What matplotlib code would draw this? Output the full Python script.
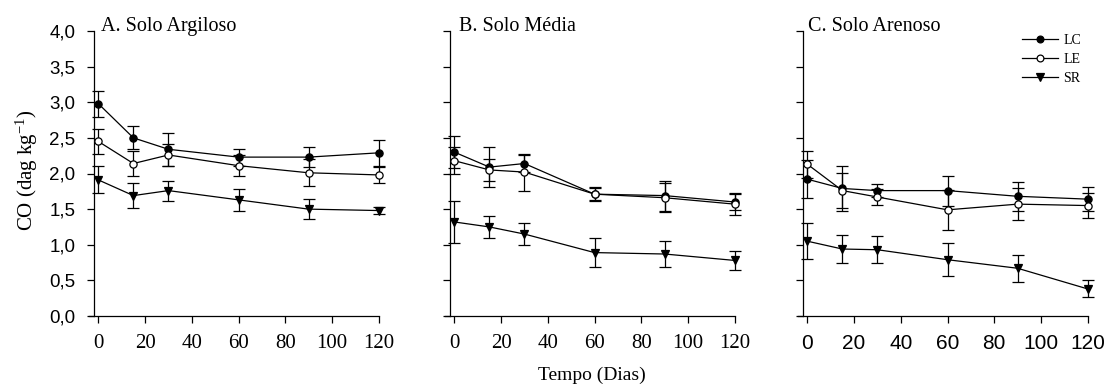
import matplotlib
matplotlib.use("Agg")
import matplotlib.pyplot as plt
from matplotlib.lines import Line2D

plt.rcParams["mathtext.fontset"] = "custom"
plt.rcParams["mathtext.rm"] = "Liberation Serif"
plt.rcParams["mathtext.it"] = "Liberation Serif:italic"
plt.rcParams["mathtext.bf"] = "Liberation Serif:bold"

dias = [0, 15, 30, 60, 90, 120]
series = ["LC", "LE", "SR"]
panel_titles = ["A. Solo Argiloso", "B. Solo Média", "C. Solo Arenoso"]

# Panel A - Solo Argiloso
a_lc = [2.98, 2.50, 2.34, 2.23, 2.23, 2.29]
a_lc_err = [0.18, 0.16, 0.23, 0.12, 0.14, 0.18]
a_le = [2.45, 2.14, 2.26, 2.11, 2.01, 1.98]
a_le_err = [0.17, 0.18, 0.16, 0.15, 0.19, 0.11]
a_sr = [1.91, 1.69, 1.76, 1.63, 1.50, 1.48]
a_sr_err = [0.19, 0.18, 0.14, 0.15, 0.14, 0.05]

# Panel B - Solo Média
b_lc = [2.30, 2.09, 2.14, 1.71, 1.69, 1.60]
b_lc_err = [0.22, 0.28, 0.12, 0.10, 0.21, 0.11]
b_le = [2.18, 2.05, 2.02, 1.71, 1.66, 1.57]
b_le_err = [0.19, 0.15, 0.26, 0.08, 0.20, 0.15]
b_sr = [1.32, 1.25, 1.15, 0.89, 0.87, 0.78]
b_sr_err = [0.30, 0.15, 0.16, 0.20, 0.18, 0.13]

# Panel C - Solo Arenoso
c_lc = [1.92, 1.79, 1.76, 1.76, 1.68, 1.64]
c_lc_err = [0.27, 0.32, 0.09, 0.21, 0.20, 0.17]
c_le = [2.13, 1.76, 1.67, 1.49, 1.57, 1.55]
c_le_err = [0.19, 0.25, 0.11, 0.28, 0.22, 0.18]
c_sr = [1.05, 0.94, 0.93, 0.79, 0.67, 0.38]
c_sr_err = [0.25, 0.20, 0.19, 0.23, 0.19, 0.12]

yticks = [0.0, 0.5, 1.0, 1.5, 2.0, 2.5, 3.0, 3.5, 4.0]
ytick_labels = ["0,0", "0,5", "1,0", "1,5", "2,0", "2,5", "3,0", "3,5", "4,0"]
xticks = [0, 20, 40, 60, 80, 100, 120]

SERIF = "Liberation Serif"
SANS = "Liberation Sans"

W, H = 1107, 387
fig = plt.figure(figsize=(W / 100, H / 100), dpi=100)

panels = [
    (a_lc, a_lc_err, a_le, a_le_err, a_sr, a_sr_err),
    (b_lc, b_lc_err, b_le, b_le_err, b_sr, b_sr_err),
    (c_lc, c_lc_err, c_le, c_le_err, c_sr, c_sr_err),
]
lefts_px = [89, 445, 798]
width_px = 289.7
top_px, bottom_px = 31, 316
title_x = [1.0, 2.1, 0.3]
xtick_fonts = [SERIF, SERIF, SANS]
xtick_sizes = [15, 15, 15]

styles = [
    dict(marker="o", mfc="black", mec="black", ms=5.2),
    dict(marker="o", mfc="white", mec="black", ms=5.2),
    dict(marker="v", mfc="black", mec="black", ms=6.2),
]

for i, data in enumerate(panels):
    ax = fig.add_axes([lefts_px[i] / W, (H - bottom_px) / H,
                       width_px / W, (bottom_px - top_px) / H])
    ax.set_xlim(-4, 120)
    ax.set_ylim(0, 4.0)
    for s in range(3):
        y = data[2 * s]
        e = data[2 * s + 1]
        st = styles[s]
        ax.errorbar(dias, y, yerr=e, color="black", lw=0.9, elinewidth=0.9,
                    capsize=4.3, capthick=0.9, marker=st["marker"],
                    mfc=st["mfc"], mec=st["mec"], ms=st["ms"], mew=0.9,
                    zorder=3, clip_on=False)
    ax.spines["top"].set_visible(False)
    ax.spines["right"].set_visible(False)
    ax.spines["left"].set_position(("data", -2))
    for sp in ("left", "bottom"):
        ax.spines[sp].set_linewidth(0.9)
    ax.set_yticks(yticks)
    ax.set_xticks(xticks)
    ax.tick_params(direction="out", length=5, width=0.9)
    if i == 0:
        ax.set_yticklabels(ytick_labels, fontfamily=SANS, fontsize=13.5)
    else:
        ax.set_yticklabels([])
    ax.set_xticklabels([str(t) for t in xticks], fontfamily=xtick_fonts[i],
                       fontsize=xtick_sizes[i])
    ax.tick_params(axis="x", pad=8)
    ax.tick_params(axis="y", pad=8)
    ax.patch.set_visible(False)
    ax.text(title_x[i], 4.0, panel_titles[i], fontfamily=SERIF, fontsize=14.5,
            va="baseline", ha="left")
    if i == 2:
        handles = [Line2D([], [], color="black", lw=0.9, marker=st["marker"],
                          mfc=st["mfc"], mec=st["mec"], ms=st["ms"] - 0.3, mew=0.9)
                   for st in styles]
        ax.legend(handles, series, loc="upper right", bbox_to_anchor=(1.02, 1.035),
                  frameon=False, prop={"family": SERIF, "size": 10},
                  handlelength=2.6, handletextpad=0.4, labelspacing=0.45)

fig.text(27 / W, 1 - 170 / H, "CO (dag kg$^{-1}$)", rotation=90, ha="center",
         va="center", fontfamily=SERIF, fontsize=15)
fig.text(592 / W, 1 - 375 / H, "Tempo (Dias)", ha="center", va="center",
         fontfamily=SERIF, fontsize=14)

fig.savefig("out.png", dpi=100)
